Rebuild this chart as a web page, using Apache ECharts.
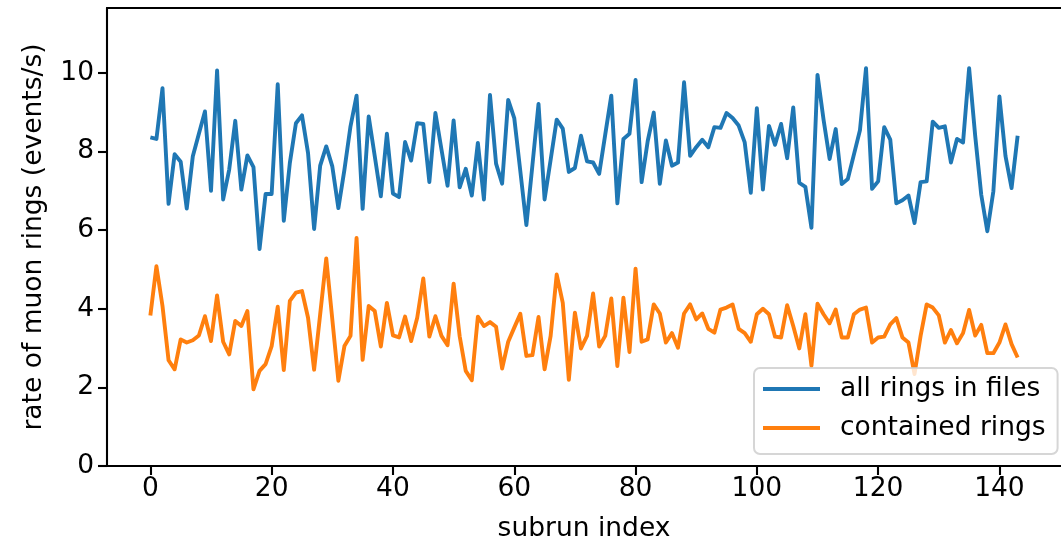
<!DOCTYPE html>
<html>
<head>
<meta charset="utf-8">
<script src="https://cdn.jsdelivr.net/npm/echarts@6/dist/echarts.min.js"></script>
<style>
html,body{margin:0;padding:0;background:#fff;}
#chart{width:1061px;height:548px;}
</style>
</head>
<body>
<div id="chart"></div>
<script>
// ---- data ----
const allRings = [
8.36,8.32,9.61,6.67,7.93,7.74,6.55,7.88,8.45,9.02,
7.0,10.06,6.78,7.54,8.78,7.03,7.9,7.6,5.52,6.92,
6.92,9.71,6.24,7.71,8.72,8.92,7.96,6.03,7.64,8.13,
7.62,6.56,7.54,8.64,9.42,6.54,8.89,7.88,6.86,8.45,
6.93,6.84,8.24,7.77,8.72,8.7,7.22,8.98,8.05,7.13,
8.79,7.09,7.56,6.88,8.22,6.78,9.44,7.69,7.18,9.31,
8.85,7.5,6.13,7.66,9.21,6.78,7.79,8.81,8.58,7.48,
7.58,8.4,7.75,7.72,7.43,8.43,9.42,6.68,8.32,8.45,
9.82,7.22,8.26,8.99,7.18,8.28,7.64,7.72,9.76,7.89,
8.11,8.3,8.11,8.62,8.6,8.98,8.85,8.66,8.23,6.95,
9.1,7.03,8.65,8.17,8.7,7.83,9.12,7.2,7.1,6.06,
9.95,8.81,7.81,8.57,7.17,7.3,7.92,8.54,10.12,7.05,
7.24,8.62,8.3,6.68,6.76,6.88,6.18,7.22,7.24,8.76,
8.6,8.64,7.72,8.32,8.23,10.12,8.4,6.9,5.97,6.99,
9.4,7.88,7.07,8.4
];
const containedRings = [
3.83,5.08,4.07,2.69,2.46,3.22,3.14,3.2,3.32,3.81,
3.18,4.34,3.16,2.84,3.69,3.56,3.94,1.95,2.42,2.59,
3.05,4.05,2.44,4.2,4.41,4.45,3.77,2.45,3.86,5.28,
3.73,2.17,3.05,3.31,5.8,2.7,4.07,3.94,3.04,4.15,
3.32,3.27,3.8,3.18,3.77,4.77,3.29,3.81,3.31,3.07,
4.64,3.3,2.42,2.18,3.8,3.56,3.66,3.54,2.48,3.16,
3.52,3.87,2.8,2.82,3.79,2.46,3.31,4.87,4.15,2.19,
3.9,2.99,3.31,4.39,3.04,3.31,4.26,2.54,4.28,2.9,
5.02,3.16,3.22,4.11,3.88,3.14,3.38,3.01,3.88,4.11,
3.73,3.88,3.49,3.39,3.98,4.03,4.11,3.49,3.38,3.16,
3.86,4.0,3.86,3.29,3.27,4.09,3.56,2.99,3.86,2.55,
4.13,3.86,3.63,3.98,3.27,3.27,3.86,3.98,4.03,3.14,
3.27,3.29,3.6,3.76,3.27,3.14,2.34,3.31,4.11,4.03,
3.83,3.14,3.46,3.12,3.38,3.97,3.32,3.59,2.87,2.87,
3.14,3.6,3.1,2.76
];
const seriesNames = ['all rings in files', 'contained rings'];
const xTicks = [0,20,40,60,80,100,120,140];
const yTicks = [0,2,4,6,8,10];
const xLabel = 'subrun index';
const yLabel = 'rate of muon rings (events/s)';

// ---- chart ----
const toPairs = arr => arr.map((v, i) => [i, v]);
const FONT = 'DejaVu Sans';
const FS = 26.5;
const SPINE = {color: '#000', width: 2.1};
const chart = echarts.init(document.getElementById('chart'), null, {renderer: 'canvas'});
chart.setOption({
  animation: false,
  backgroundColor: '#ffffff',
  grid: {
    left: 107, top: 8, bottom: 81, right: -10,
    show: false, containLabel: false
  },
  xAxis: [
    {
      type: 'value', min: -7.15, max: 150.15, position: 'bottom',
      name: xLabel, nameLocation: 'middle', nameGap: 50,
      nameTextStyle: {fontFamily: FONT, fontSize: FS, color: '#000'},
      axisLine: {show: true, onZero: false, lineStyle: SPINE},
      axisTick: {show: true, length: 9, lineStyle: SPINE, customValues: xTicks},
      axisLabel: {fontFamily: FONT, fontSize: FS, color: '#000', margin: 10, customValues: xTicks},
      splitLine: {show: false}
    },
    {
      type: 'value', min: -7.15, max: 150.15, position: 'top',
      axisLine: {show: true, onZero: false, lineStyle: SPINE},
      axisTick: {show: false}, axisLabel: {show: false}, splitLine: {show: false}
    }
  ],
  yAxis: {
    type: 'value', min: 0, max: 11.65,
    name: yLabel, nameLocation: 'middle', nameGap: 59, nameRotate: 90,
    nameTextStyle: {fontFamily: FONT, fontSize: FS, color: '#000'},
    axisLine: {show: true, onZero: false, lineStyle: SPINE},
    axisTick: {show: true, length: 9, lineStyle: SPINE, customValues: yTicks},
    axisLabel: {fontFamily: FONT, fontSize: FS, color: '#000', margin: 13, customValues: yTicks},
    splitLine: {show: false}
  },
  legend: {
    orient: 'vertical', left: 754, top: 368,
    data: seriesNames,
    icon: 'rect', itemWidth: 57, itemHeight: 3.9, itemGap: 9,
    padding: [6, 12, 11, 9],
    backgroundColor: 'rgba(255,255,255,0.8)',
    borderColor: 'rgba(204,204,204,0.8)', borderWidth: 2, borderRadius: 6,
    textStyle: {fontFamily: FONT, fontSize: FS, color: '#000', lineHeight: 30, padding: [0, 0, 0, 15]}
  },
  series: [
    {
      name: seriesNames[0], type: 'line', data: toPairs(allRings),
      showSymbol: false, symbol: 'none', color: '#1f77b4',
      lineStyle: {width: 3.9, color: '#1f77b4', join: 'round'}
    },
    {
      name: seriesNames[1], type: 'line', data: toPairs(containedRings),
      showSymbol: false, symbol: 'none', color: '#ff7f0e',
      lineStyle: {width: 3.9, color: '#ff7f0e', join: 'round'}
    }
  ]
});
</script>
</body>
</html>
